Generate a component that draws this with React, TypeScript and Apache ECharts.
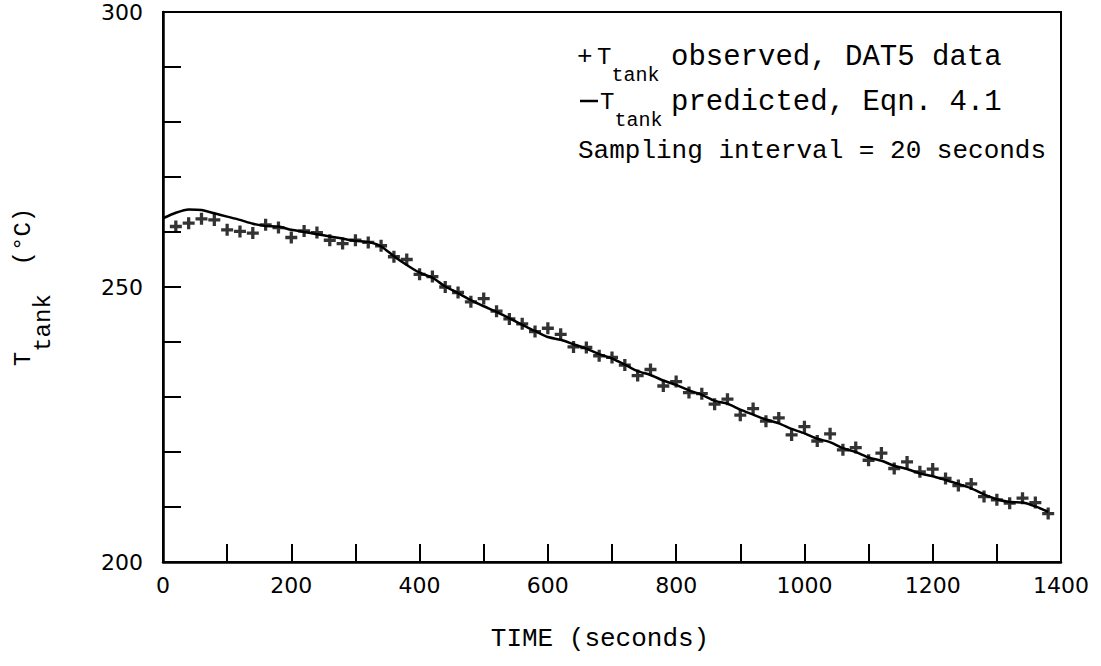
import React, { useEffect, useRef } from "react";
import * as echarts from "echarts";

const obsTime = [20, 40, 60, 80, 100, 120, 140, 160, 180, 200, 220, 240, 260, 280, 300, 320, 340, 360, 380, 400, 420, 440, 460, 480, 500, 520, 540, 560, 580, 600, 620, 640, 660, 680, 700, 720, 740, 760, 780, 800, 820, 840, 860, 880, 900, 920, 940, 960, 980, 1000, 1020, 1040, 1060, 1080, 1100, 1120, 1140, 1160, 1180, 1200, 1220, 1240, 1260, 1280, 1300, 1320, 1340, 1360, 1380];
const obsTemp = [261.0, 261.6, 262.4, 262.2, 260.4, 260.1, 259.8, 261.3, 260.8, 259.0, 260.2, 259.9, 258.5, 257.9, 258.5, 258.1, 257.5, 255.5, 255.0, 252.3, 251.9, 250.0, 249.0, 247.3, 247.9, 245.6, 244.2, 243.3, 241.9, 242.5, 241.4, 239.1, 239.0, 237.5, 237.2, 235.8, 233.9, 235.0, 232.0, 232.8, 230.8, 230.6, 228.7, 229.6, 226.7, 227.9, 225.6, 226.2, 223.1, 224.6, 222.0, 223.3, 220.4, 220.8, 218.5, 219.8, 217.0, 218.2, 216.4, 216.9, 215.2, 213.9, 214.2, 211.9, 211.3, 210.7, 211.6, 210.8, 208.8];

const predTime = [0, 20, 40, 60, 80, 100, 120, 140, 160, 180, 200, 220, 240, 260, 280, 300, 320, 340, 360, 380, 400, 420, 440, 460, 480, 500, 520, 540, 560, 580, 600, 620, 640, 660, 680, 700, 720, 740, 760, 780, 800, 820, 840, 860, 880, 900, 920, 940, 960, 980, 1000, 1020, 1040, 1060, 1080, 1100, 1120, 1140, 1160, 1180, 1200, 1220, 1240, 1260, 1280, 1300, 1320, 1340, 1360, 1380];
const predTemp = [262.5, 263.5, 264.1, 264.0, 263.4, 262.8, 262.2, 261.5, 261.1, 261.0, 260.4, 260.0, 259.6, 259.2, 258.8, 258.4, 258.2, 257.4, 255.6, 254.0, 252.6, 251.7, 250.1, 248.9, 247.6, 246.5, 245.5, 244.3, 243.1, 242.0, 240.9, 240.4, 239.6, 238.8, 237.8, 237.0, 235.9, 234.7, 234.0, 233.0, 232.2, 231.2, 230.4, 229.3, 228.8, 227.7, 226.8, 225.9, 225.2, 224.2, 223.4, 222.4, 221.8, 220.7, 220.0, 219.0, 218.4, 217.5, 216.9, 216.1, 215.6, 214.9, 214.2, 213.4, 212.3, 211.4, 210.9, 210.8, 210.1, 209.1];

const xTickLabels = ["0", "200", "400", "600", "800", "1000", "1200", "1400"];
const yTickLabels = ["200", "250", "300"];

const MONO = "'Liberation Mono', monospace";
const SANS = "'DejaVu Sans', sans-serif";
const INK = "#000";

export default function App() {
  const ref = useRef<HTMLDivElement>(null);
  useEffect(() => {
    if (!ref.current) return;
    const chart = echarts.init(ref.current, undefined, { renderer: "svg" });
    const obs = obsTime.map((t, i) => [t, obsTemp[i]]);
    const pred = predTime.map((t, i) => [t, predTemp[i]]);
    const plus = "path://M4,0h3v4h4v3h-4v4h-3v-4h-4v-3h4z";
    const subRich = {
      t: { fontFamily: MONO, fontSize: 24, color: INK, padding: [0, 0, 16, 0] },
      s: { fontFamily: MONO, fontSize: 20, color: INK, verticalAlign: "bottom" },
    };
    chart.setOption({
      animation: false,
      backgroundColor: "#ffffff",
      grid: {
        left: 163,
        top: 12,
        right: 40,
        bottom: 104,
        show: true,
        borderColor: INK,
        borderWidth: 2,
      },
      xAxis: {
        type: "value",
        min: 0,
        max: 1400,
        interval: 100,
        name: "TIME (seconds)",
        nameLocation: "middle",
        nameGap: 64,
        nameTextStyle: { fontFamily: MONO, fontSize: 26, color: INK, padding: [0, 24, 0, 0] },
        axisLine: { lineStyle: { color: INK, width: 2.5 } },
        axisTick: { inside: true, length: 18, lineStyle: { color: INK, width: 2 } },
        splitLine: { show: false },
        axisLabel: {
          margin: 12,
          fontFamily: SANS,
          fontSize: 22,
          color: INK,
          formatter: (v: number) => (xTickLabels.includes(String(v)) ? String(v) : ""),
        },
      },
      yAxis: {
        type: "value",
        min: 200,
        max: 300,
        interval: 10,
        name: "{t|T}{s|tank}{t|  (°C)}",
        nameLocation: "middle",
        nameGap: 108,
        nameTextStyle: {
          color: INK,
          rich: {
            t: { fontFamily: MONO, fontSize: 24, color: INK, padding: [0, 0, 20, 0] },
            s: { fontFamily: MONO, fontSize: 24, color: INK, verticalAlign: "bottom" },
          },
        },
        axisLine: { lineStyle: { color: INK, width: 2.5 } },
        axisTick: { inside: true, length: 18, lineStyle: { color: INK, width: 2 } },
        splitLine: { show: false },
        axisLabel: {
          margin: 20,
          fontFamily: SANS,
          fontSize: 22,
          color: INK,
          formatter: (v: number) => (yTickLabels.includes(String(v)) ? String(v) : ""),
        },
      },
      series: [
        {
          name: "predicted",
          type: "line",
          data: pred,
          showSymbol: false,
          smooth: 0.2,
          lineStyle: { color: INK, width: 2.5 },
          z: 2,
        },
        {
          name: "observed",
          type: "scatter",
          data: obs,
          symbol: plus,
          symbolSize: 12,
          itemStyle: { color: INK },
          z: 3,
        },
      ],
      graphic: [
        { type: "text", x: 577, y: 57, style: { text: "+", fontFamily: MONO, fontSize: 26, fill: INK, verticalAlign: "middle" } },
        { type: "text", x: 597, y: 45, style: { text: "{t|T}{s|tank}", rich: subRich, fill: INK, verticalAlign: "top" } },
        { type: "text", x: 671, y: 57, style: { text: "observed, DAT5 data", fontFamily: MONO, fontSize: 29, fill: INK, verticalAlign: "middle" } },
        { type: "line", shape: { x1: 580, y1: 101, x2: 598, y2: 101 }, style: { stroke: INK, lineWidth: 2.5 } },
        { type: "text", x: 600, y: 90, style: { text: "{t|T}{s|tank}", rich: subRich, fill: INK, verticalAlign: "top" } },
        { type: "text", x: 671, y: 102, style: { text: "predicted, Eqn. 4.1", fontFamily: MONO, fontSize: 29, fill: INK, verticalAlign: "middle" } },
        { type: "text", x: 578, y: 151, style: { text: "Sampling interval = 20 seconds", fontFamily: MONO, fontSize: 26, fill: INK, verticalAlign: "middle" } },
      ],
    });
    return () => chart.dispose();
  }, []);
  return (
    <div
      ref={ref}
      style={{ position: "fixed", left: 0, top: 0, width: 1101, height: 666, background: "#fff" }}
    />
  );
}
